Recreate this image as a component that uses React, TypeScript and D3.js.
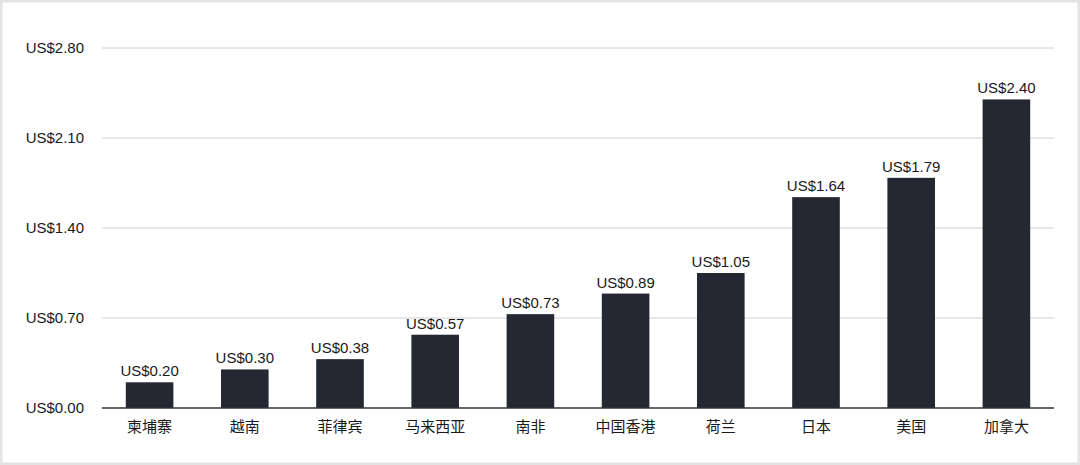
import React from "react";
import * as d3 from "d3";

const categories = ["柬埔寨", "越南", "菲律宾", "马来西亚", "南非", "中国香港", "荷兰", "日本", "美国", "加拿大"];
const values = [0.2, 0.3, 0.38, 0.57, 0.73, 0.89, 1.05, 1.64, 1.79, 2.4];
const yTicks = [0, 0.7, 1.4, 2.1, 2.8];

const W = 1080;
const H = 465;
const left = 102;
const right = 1054;
const top = 48;
const bottom = 408;
const font = "'Liberation Sans', Arial, Helvetica, sans-serif";
const cjkFont = "'Noto Sans CJK SC', 'Liberation Sans', sans-serif";

export default function App() {
  const x = d3.scaleBand<string>().domain(categories).range([left, right]).paddingInner(0.5).paddingOuter(0.25);
  const y = d3.scaleLinear().domain([0, 2.8]).range([bottom, top]);
  const fmt = (v: number) => "US$" + d3.format(".2f")(v);
  return (
    <svg width={W} height={H} style={{ position: "absolute", left: 0, top: 0, display: "block" }}>
      <rect x={0} y={0} width={W} height={H} fill="#ffffff" />
      <rect x={1.25} y={1.25} width={W - 2.5} height={H - 2.5} fill="none" stroke="#e3e3e3" strokeWidth={2.5} />
      {yTicks.map((t) => (
        <g key={t}>
          {t !== 0 && (
            <line x1={left} x2={right} y1={y(t)} y2={y(t)} stroke="#d0d0d0" strokeWidth={1} />
          )}
          <text x={84} y={y(t)} dy="0.35em" textAnchor="end" fontFamily={font} fontSize={15} fill="#1a1a1a">
            {fmt(t)}
          </text>
        </g>
      ))}
      {categories.map((c, i) => (
        <g key={c}>
          <rect x={x(c)!} y={y(values[i])} width={x.bandwidth()} height={bottom - y(values[i])} fill="#252733" />
          <text x={x(c)! + x.bandwidth() / 2} y={y(values[i]) - 6} textAnchor="middle" fontFamily={font} fontSize={15} fill="#1a1a1a">
            {fmt(values[i])}
          </text>
          <text x={x(c)! + x.bandwidth() / 2} y={bottom + 19} dy="0.35em" textAnchor="middle" fontFamily={cjkFont} fontSize={15} fill="#1a1a1a">
            {c}
          </text>
        </g>
      ))}
      <line x1={left} x2={right} y1={bottom} y2={bottom} stroke="#333" strokeWidth={1.5} />
    </svg>
  );
}
